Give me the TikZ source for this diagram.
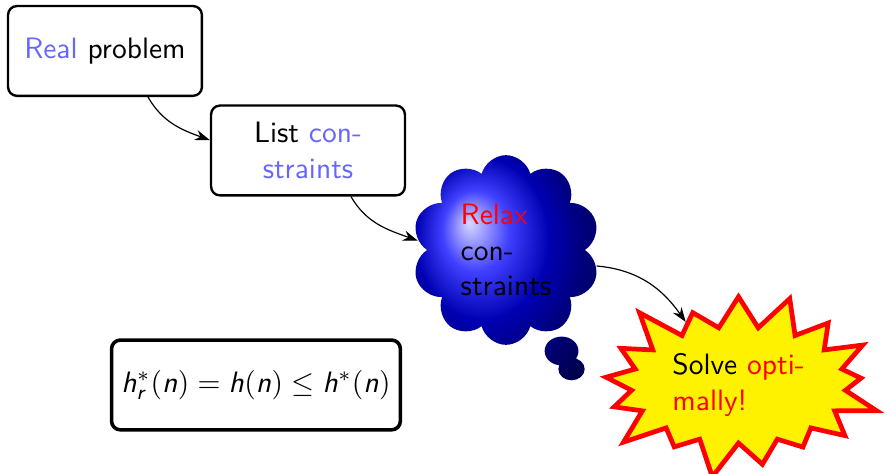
\documentclass[tikz,border=0pt]{standalone}
\usetikzlibrary{shapes.symbols,shapes.callouts,arrows.meta}
\renewcommand{\familydefault}{\sfdefault}
\DeclareMathAlphabet{\mathsfsl}{OT1}{cmss}{m}{sl}
\newcommand{\hh}{\mathsfsl{h}}
\newcommand{\nn}{\mathsfsl{n}}
\newcommand{\rr}{\mathsfsl{r}}

\begin{document}
\begin{tikzpicture}[
        x=1cm, y=1cm,
        box/.style={draw, thick, rounded corners=3pt, align=center,
                    minimum width=2.31cm, minimum height=1.07cm},
        flow/.style={-{Stealth[length=5pt,width=3.5pt]}, line width=0.4pt},
        think/.style={cloud callout, cloud puffs=10, cloud puff arc=150,
                      aspect=1, shading=ball, ball color=blue, align=left,
                      minimum width=2.24cm, minimum height=2.26cm,
                      callout pointer start size=.22 of callout,
                      callout pointer end size=.14 of callout},
        burst/.style={starburst, draw=red, fill=yellow, line width=1.6pt,
                      align=left, minimum width=3.5cm, minimum height=2.05cm}]

    \useasboundingbox (0,0) rectangle (10.629,5.648);

    \coordinate (tip) at (6.81,1.25);

    \node[box] (real) at (1.251,5.041) {\textcolor{blue!60}{Real} problem};
    \node[box] (list) at (3.670,3.855)
        {List \textcolor{blue!60}{con-}\\\textcolor{blue!60}{straints}};
    \node[think, callout absolute pointer={(tip)}] (relax) at (6.029,2.669)
        {\textcolor{red}{Relax}\\con-\\straints};
    \node[burst] (solve) at (8.80,1.061)
        {Solve \textcolor{red}{opti-}\\\textcolor{red}{mally!}};
    \node[box, very thick, minimum width=3.38cm] (hr) at (3.050,1.061)
        {$\hh^*_\rr(\nn) = \hh(\nn) \leq \hh^*(\nn)$};

    % --- steps
    \draw[flow] (real.-47)  to[out=-60, in=160] (list.174);
    \draw[flow] (list.-47)  to[out=-60, in=160] (relax.174);
    \draw[flow] (relax.-10) to[out=-5,  in=125] (solve.130);

    \end{tikzpicture}
\end{document}
